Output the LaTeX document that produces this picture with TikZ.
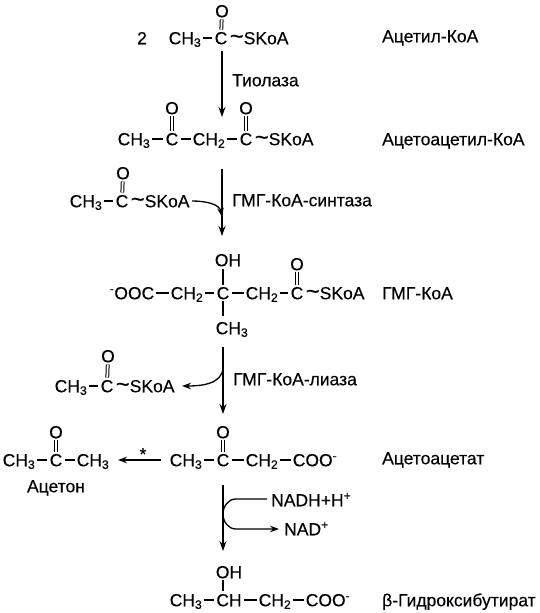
\documentclass[tikz,border=0pt]{standalone}
\usepackage{fontspec}
\setmainfont{Liberation Sans}[FakeBold=0.25]
\usetikzlibrary{arrows.meta}
\tikzset{
	atom/.style={
		inner xsep=2pt,
		inner ysep=2pt,
		text height=12.5pt,
		text depth=0pt,
		black,
		font=\fontsize{17.5}{20}\selectfont
	},
	txt/.style={atom,anchor=west,inner xsep=0pt},
	bond/.style={line width=1.2pt,black},
	dbond/.style={line width=1pt,black,double,double distance=1.8pt},
	blackarrow/.style={
		line width=1.3pt,
		black,
		-{Stealth[length=10pt, width=7pt]}
	},
	sidearrow/.style={
		line width=1.3pt,
		black,
		-{Stealth[length=9pt, width=6.5pt]}
	},
	sideline/.style={line width=1.3pt,black}
}
\newcommand{\sk}{{\fontsize{24}{24}\selectfont\textasciitilde}SKoA}
\newcommand{\cht}{CH\textsubscript{3}}
\newcommand{\chd}{CH\textsubscript{2}}
\begin{document}
\begin{tikzpicture}[x=1pt,y=-1pt]
	\useasboundingbox (0,0) rectangle (539,613);
	
	\path
	(222,51) coordinate (a1)
	(222,117) coordinate (a2)
	(222,169) coordinate (b1)
	(222,236) coordinate (b2)
	(192,201) coordinate (bs)
	(223,347) coordinate (c1)
	(223,414) coordinate (c2)
	(223,367) coordinate (cs)
	(182,386) coordinate (ce)
	(161,460) coordinate (d1)
	(118,460) coordinate (d2)
	(223,485) coordinate (e1)
	(223,551) coordinate (e2)
	(267,499) coordinate (es)
	(223,514) coordinate (em)
	(279,529) coordinate (ee)
	(236,499) coordinate (ea)
	(236,529) coordinate (eb)
	(223,269) coordinate (r3u)
	(223,316) coordinate (r3l)
	(223,580) coordinate (r6u)
	(223,591) coordinate (r6l)
	(222,217) coordinate (bt);
	
	% acetyl-CoA
	\node[atom] (n1) at (142,38) {2};
	\node[atom] (r1a) at (185,38) {\cht};
	\node[atom] (r1c) at (221,38) {C};
	\node[txt] (r1s) at (r1c.east) {\sk};
	\node[atom] (r1o) at (222,11) {O};
	\draw[bond] (r1a) -- (r1c);
	\draw[dbond] (r1o) -- (r1c);
	\node[txt] (l1) at (382,36) {Ацетил-КоА};
	
	% acetoacetyl-CoA
	\node[atom] (r2a) at (134,139) {\cht};
	\node[atom] (r2c) at (172,139) {C};
	\node[atom] (r2d) at (209,139) {\chd};
	\node[atom] (r2e) at (246,139) {C};
	\node[txt] (r2s) at (r2e.east) {\sk};
	\node[atom] (r2o) at (172,108) {O};
	\node[atom] (r2p) at (246,108) {O};
	\draw[bond] (r2a) -- (r2c);
	\draw[bond] (r2c) -- (r2d);
	\draw[bond] (r2d) -- (r2e);
	\draw[dbond] (r2o) -- (r2c);
	\draw[dbond] (r2p) -- (r2e);
	\node[txt] (l2) at (382,139) {Ацетоацетил-КоА};
	
	% HMG-CoA synthase side
	\node[atom] (s1a) at (86,201) {\cht};
	\node[atom] (s1c) at (122,201) {C};
	\node[txt] (s1s) at (s1c.east) {\sk};
	\node[atom] (s1o) at (123,173) {O};
	\draw[bond] (s1a) -- (s1c);
	\draw[dbond] (s1o) -- (s1c);
	\node[txt] (e2t) at (232,200) {ГМГ-КоА-синтаза};
	
	% HMG-CoA
	\node[atom] (r3a) at (132,293) {\textsuperscript{-}OOC};
	\node[atom] (r3b) at (187,293) {\chd};
	\node[atom] (r3c) at (223,293) {C};
	\node[atom] (r3d) at (262,293) {\chd};
	\node[atom] (r3e) at (297,293) {C};
	\node[txt] (r3s) at (r3e.east) {\sk};
	\node[atom] (r3oh) at (228,260) {OH};
	\node[atom] (r3m) at (232,328) {\cht};
	\node[atom] (r3o) at (297,264) {O};
	\draw[bond] (r3a) -- (r3b);
	\draw[bond] (r3b) -- (r3c);
	\draw[bond] (r3c) -- (r3d);
	\draw[bond] (r3d) -- (r3e);
	\draw[bond] (r3c) -- (r3u);
	\draw[bond] (r3c) -- (r3l);
	\draw[dbond] (r3o) -- (r3e);
	\node[txt] (l3) at (382,293) {ГМГ-КоА};
	
	% lyase side
	\node[atom] (s2a) at (71,386) {\cht};
	\node[atom] (s2c) at (107,386) {C};
	\node[txt] (s2s) at (s2c.east) {\sk};
	\node[atom] (s2o) at (108,356) {O};
	\draw[bond] (s2a) -- (s2c);
	\draw[dbond] (s2o) -- (s2c);
	\node[txt] (e3t) at (233,379) {ГМГ-КоА-лиаза};
	
	% acetoacetate
	\node[atom] (r4a) at (186,460) {\cht};
	\node[atom] (r4c) at (223,460) {C};
	\node[atom] (r4d) at (262,460) {\chd};
	\node[atom] (r4e) at (315,460) {COO\textsuperscript{-}};
	\node[atom] (r4o) at (223,432) {O};
	\draw[bond] (r4a) -- (r4c);
	\draw[bond] (r4c) -- (r4d);
	\draw[bond] (r4d) -- (r4e);
	\draw[dbond] (r4o) -- (r4c);
	\node[txt] (l4) at (382,458) {Ацетоацетат};
	
	% acetone
	\node[atom] (r5a) at (19,460) {\cht};
	\node[atom] (r5c) at (56,460) {C};
	\node[atom] (r5d) at (93,460) {\cht};
	\node[atom] (r5o) at (56,432) {O};
	\draw[bond] (r5a) -- (r5c);
	\draw[bond] (r5c) -- (r5d);
	\draw[dbond] (r5o) -- (r5c);
	\node[atom] (l5) at (56,486) {Ацетон};
	\node[atom] (star) at (143,454) {*};
	
	% NADH
	\node[txt] (nadh) at (271,500) {NADH+H\textsuperscript{+}};
	\node[txt] (nad) at (284,529) {NAD\textsuperscript{+}};
	
	% hydroxybutyrate
	\node[atom] (r6a) at (186,600) {\cht};
	\node[atom] (r6b) at (229,600) {CH};
	\node[atom] (r6c) at (275,600) {\chd};
	\node[atom] (r6d) at (328,600) {COO\textsuperscript{-}};
	\node[atom] (r6o) at (229,572) {OH};
	\draw[bond] (r6a) -- (r6b);
	\draw[bond] (r6b) -- (r6c);
	\draw[bond] (r6c) -- (r6d);
	\draw[bond] (r6u) -- (r6l);
	\node[txt] (l6) at (382,600) {β-Гидроксибутират};
	\node[txt] (e1t) at (232,80) {Тиолаза};
	
	% arrows
	\draw[blackarrow] (a1) -- (a2);
	\draw[blackarrow] (b1) -- (b2);
	\draw[blackarrow] (c1) -- (c2);
	\draw[blackarrow] (e1) -- (e2);
	\draw[sidearrow] (d1) -- (d2);
	\draw[sidearrow] (bs) to[out=0,in=100] (bt);
	\draw[sidearrow] (cs) to[out=-90,in=0] (ce);
	\draw[sideline] (es) -- (ea) to[out=180,in=90] (em);
	\draw[sidearrow] (em) to[out=-90,in=180] (eb) -- (ee);
\end{tikzpicture}
\end{document}
